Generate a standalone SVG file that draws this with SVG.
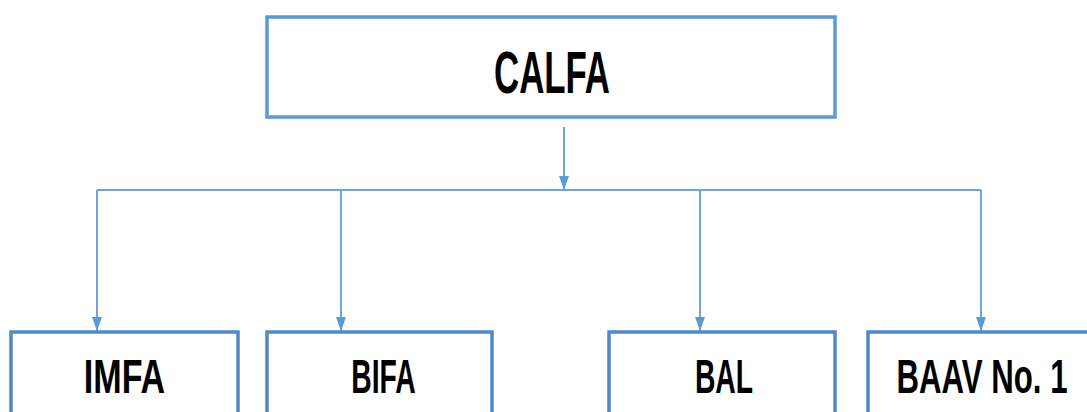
<svg xmlns="http://www.w3.org/2000/svg" width="1087" height="412" viewBox="0 0 1087 412">
<style>
.box{fill:#ffffff;stroke:#5b9bd5;stroke-width:3.5}
.bbox{fill:#ffffff;stroke:#4f89c8;stroke-width:3.5}
.lbl{font-family:"Liberation Sans",Arial,sans-serif;font-weight:bold;fill:#000000;text-anchor:middle}
.conn{fill:none;stroke:#6fa5d8;stroke-width:2}
</style>
<defs>
<marker id="arr" viewBox="0 0 14 10" refX="14" refY="5" markerWidth="14" markerHeight="10" markerUnits="userSpaceOnUse" orient="auto">
<path d="M0,0 L14,5 L0,10 z" fill="#5b9bd5"/>
</marker>
</defs>
<rect width="1087" height="412" fill="#ffffff"/>
<g id="connectors">
<path class="conn" d="M564,127 L564,190" marker-end="url(#arr)"/>
<path class="conn" d="M97,190 L981,190"/>
<path class="conn" d="M97,190 L97,331" marker-end="url(#arr)"/>
<path class="conn" d="M341,190 L341,331" marker-end="url(#arr)"/>
<path class="conn" d="M700,190 L700,331" marker-end="url(#arr)"/>
<path class="conn" d="M981,190 L981,331" marker-end="url(#arr)"/>
</g>
<g id="calfa">
<rect class="box" x="267" y="17" width="568" height="100"/>
<text class="lbl" font-size="60" transform="translate(552,93) scale(0.58,1)">CALFA</text>
</g>
<g id="imfa">
<rect class="bbox" x="11" y="332" width="227" height="100"/>
<text class="lbl" font-size="48" transform="translate(124.5,393) scale(0.71,1)">IMFA</text>
</g>
<g id="bifa">
<rect class="bbox" x="267" y="332" width="225" height="100"/>
<text class="lbl" font-size="48" transform="translate(383.5,393) scale(0.59,1)">BIFA</text>
</g>
<g id="bal">
<rect class="bbox" x="609" y="332" width="226" height="100"/>
<text class="lbl" font-size="48" transform="translate(724,393) scale(0.59,1)">BAL</text>
</g>
<g id="baav">
<path class="bbox" d="M1087,332 H868 V412"/>
<text class="lbl" font-size="48" transform="translate(982,393) scale(0.65,1)">BAAV No. 1</text>
</g>
</svg>
